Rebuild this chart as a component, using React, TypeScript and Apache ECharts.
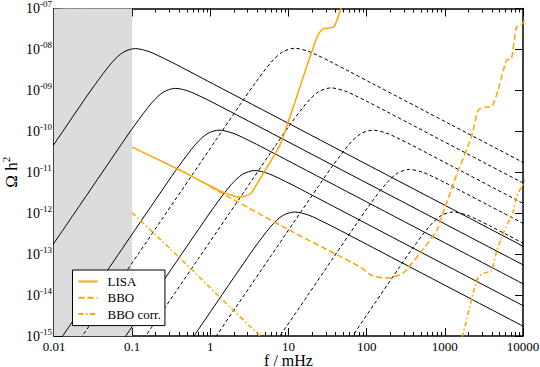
import React, { useEffect, useRef } from 'react';
import * as echarts from 'echarts';

// ---- axes / ticks ----
const xMajor = [0.01, 0.1, 1, 10, 100, 1000, 10000];
const xTickLabels = ['0.01', '0.1', '1', '10', '100', '1000', '10000'];
const yMajor = [1e-15, 1e-14, 1e-13, 1e-12, 1e-11, 1e-10, 1e-9, 1e-8, 1e-7];
const yExponents = ['-15', '-14', '-13', '-12', '-11', '-10', '-09', '-08', '-07'];
const shadedBand = [0.01, 0.1];

// ---- black solid spectra ----
const solid1: [number, number][] = [[0.0055, 9.0e-12], [0.011, 6.3e-11], [0.022, 4.4e-10], [0.033, 1.33e-9], [0.055, 4.77e-9], [0.077, 8.54e-9], [0.11, 1.05e-8], [0.165, 8.82e-9], [0.22, 6.93e-9], [0.33, 4.73e-9], [0.55, 2.85e-9], [1.1, 1.42e-9], [11, 1.42e-10], [110, 1.42e-11], [1100, 1.42e-12], [11000, 1.42e-13]];
const solid2: [number, number][] = [[0.0072, 7.45e-14], [0.018, 9.6e-13], [0.036, 6.7e-12], [0.072, 4.67e-11], [0.108, 1.42e-10], [0.18, 5.08e-10], [0.252, 9.1e-10], [0.36, 1.12e-9], [0.54, 9.41e-10], [0.72, 7.39e-10], [1.08, 5.04e-10], [1.8, 3.04e-10], [3.6, 1.52e-10], [36, 1.52e-11], [360, 1.52e-12], [3600, 1.52e-13], [36000, 1.52e-14]];
const solid3: [number, number][] = [[0.0065, 1.47e-16], [0.013, 1.02e-15], [0.026, 7.1e-15], [0.065, 9.2e-14], [0.13, 6.44e-13], [0.26, 4.46e-12], [0.39, 1.36e-11], [0.65, 4.86e-11], [0.91, 8.7e-11], [1.3, 1.07e-10], [1.95, 8.99e-11], [2.6, 7.06e-11], [3.9, 4.82e-11], [6.5, 2.9e-11], [13, 1.45e-11], [130, 1.45e-12], [1300, 1.45e-13], [13000, 1.45e-14]];
const solid4: [number, number][] = [[0.037, 1.05e-16], [0.074, 7.3e-16], [0.185, 9.46e-15], [0.37, 6.62e-14], [0.74, 4.59e-13], [1.11, 1.4e-12], [1.85, 4.99e-12], [2.59, 8.94e-12], [3.7, 1.1e-11], [5.55, 9.24e-12], [7.4, 7.26e-12], [11.1, 4.95e-12], [18.5, 2.98e-12], [37, 1.49e-12], [370, 1.49e-13], [3700, 1.49e-14], [37000, 1.49e-15]];
const solid5: [number, number][] = [[0.24, 7.1e-17], [0.6, 9.2e-16], [1.2, 6.44e-15], [2.4, 4.46e-14], [3.6, 1.36e-13], [6, 4.86e-13], [8.4, 8.7e-13], [12, 1.07e-12], [18, 8.99e-13], [24, 7.06e-13], [36, 4.82e-13], [60, 2.9e-13], [120, 1.45e-13], [1200, 1.45e-14], [12000, 1.45e-15]];

// ---- black dashed spectra ----
const dashed1: [number, number][] = [[0.012, 1.6e-16], [0.024, 1.12e-15], [0.06, 1.47e-14], [0.12, 1.02e-13], [0.24, 7.1e-13], [0.6, 9.2e-12], [1.2, 6.44e-11], [2.4, 4.46e-10], [3.6, 1.36e-9], [6, 4.86e-9], [8.4, 8.7e-9], [12, 1.07e-8], [18, 8.99e-9], [24, 7.06e-9], [36, 4.82e-9], [60, 2.9e-9], [120, 1.45e-9], [1200, 1.45e-10], [12000, 1.45e-11]];
const dashed2: [number, number][] = [[0.07, 1.2e-16], [0.175, 1.58e-15], [0.35, 1.1e-14], [0.7, 7.65e-14], [1.75, 9.9e-13], [3.5, 6.92e-12], [7, 4.8e-11], [10.5, 1.46e-10], [17.5, 5.22e-10], [24.5, 9.35e-10], [35, 1.15e-9], [52.5, 9.66e-10], [70, 7.59e-10], [105, 5.18e-10], [175, 3.12e-10], [350, 1.56e-10], [3500, 1.56e-11], [35000, 1.56e-12]];
const dashed3: [number, number][] = [[0.24, 1.1e-17], [0.6, 1.47e-16], [1.2, 1.02e-15], [2.4, 7.1e-15], [6, 9.2e-14], [12, 6.44e-13], [24, 4.46e-12], [36, 1.36e-11], [60, 4.86e-11], [84, 8.7e-11], [120, 1.07e-10], [180, 8.99e-11], [240, 7.06e-11], [360, 4.82e-11], [600, 2.9e-11], [1200, 1.45e-11], [12000, 1.45e-12]];
const dashed4: [number, number][] = [[1.78, 1.6e-17], [3.55, 1.12e-16], [7.1, 7.8e-16], [17.8, 1.01e-14], [35.5, 7.04e-14], [71, 4.88e-13], [106.5, 1.49e-12], [177.5, 5.31e-12], [248.5, 9.51e-12], [355, 1.17e-11], [532.5, 9.83e-12], [710, 7.72e-12], [1065, 5.27e-12], [1775, 3.17e-12], [3550, 1.59e-12], [35500, 1.59e-13]];
const dashed5: [number, number][] = [[12.8, 1.0e-17], [25.6, 7.1e-17], [64, 9.2e-16], [128, 6.44e-15], [256, 4.46e-14], [384, 1.36e-13], [640, 4.86e-13], [896, 8.7e-13], [1280, 1.07e-12], [1920, 8.99e-13], [2560, 7.06e-13], [3840, 4.82e-13], [6400, 2.9e-13], [12800, 1.45e-13]];

// ---- detector sensitivity curves ----
const lisa: [number, number][] = [[0.1, 4.1e-11], [0.41, 1.12e-11], [0.74, 6.2e-12], [1.33, 3.5e-12], [2.25, 2.5e-12], [3.2, 2.9e-12], [4.75, 9.3e-12], [7.76, 4.6e-11], [10.4, 2.2e-10], [14, 1.2e-9], [18.8, 6.5e-9], [23.8, 2.25e-8], [27.5, 3.16e-8], [32.9, 3.33e-8], [38.1, 3.53e-8], [41.6, 5.2e-8], [46.8, 9.7e-8], [51, 1.6e-7]];
const bbo: [number, number][] = [[1.0, 4.4e-12], [10.4, 3.8e-13], [82, 4.9e-14], [117, 3.0e-14], [180, 2.6e-14], [290, 3.4e-14], [479, 1.04e-13], [790, 3.8e-13], [910, 8.1e-13], [1380, 7.6e-12], [2190, 7.4e-11], [2670, 3.3e-10], [3200, 3.9e-10], [3950, 4.0e-10], [4810, 1.02e-9], [6150, 5.5e-9], [7120, 6e-9], [8260, 3.6e-8], [9570, 4e-8], [11000, 6e-8]];
const bboCorrLow: [number, number][] = [[0.1, 1.02e-12], [0.304, 1.38e-13], [1.33, 8.8e-15], [4.3, 1e-15], [6, 5e-16]];
const bboCorrHigh: [number, number][] = [[1500, 5e-16], [1680, 1e-15], [2300, 1.1e-14], [2670, 2.75e-14], [3090, 3.35e-14], [3950, 4.0e-14], [4580, 1.13e-13], [5570, 3.2e-13], [7470, 1.07e-12], [8260, 2.5e-12], [9570, 4.4e-12], [11000, 7e-12]];

const FONT = "Liberation Serif, Times New Roman, serif";
const ORANGE = '#FFA500';

function near(a: number, b: number) {
  return Math.abs(a - b) <= Math.abs(b) * 1e-6;
}
function fmtX(v: number) {
  const i = xMajor.findIndex((t) => near(v, t));
  return i >= 0 ? xTickLabels[i] : '';
}
function fmtY(v: number) {
  const i = yMajor.findIndex((t) => near(v, t));
  return i >= 0 ? `{a|10}{b|${yExponents[i]}}` : '';
}

export default function App() {
  const ref = useRef<HTMLDivElement>(null);
  useEffect(() => {
    if (!ref.current) return;
    const chart = echarts.init(ref.current, undefined, { renderer: 'svg' });
    const xMinor: number[] = [];
    for (let i = 0; i < xMajor.length - 1; i++) {
      for (let k = 2; k <= 9; k++) xMinor.push(xMajor[i] * k);
    }
    const axisLine = { show: true, onZero: false, lineStyle: { color: '#000', width: 1.5 } };
    const baseX = {
      type: 'log', logBase: 10, min: xMajor[0], max: xMajor[xMajor.length - 1],
      splitLine: { show: false }, minorTick: { show: false }, minorSplitLine: { show: false },
    };
    const baseY = {
      type: 'log', logBase: 10, min: yMajor[0], max: yMajor[yMajor.length - 1],
      splitLine: { show: false }, minorTick: { show: false }, minorSplitLine: { show: false },
    };
    const blackLine = (data: [number, number][], dashed: boolean) => ({
      type: 'line', data, showSymbol: false, symbol: 'none', smooth: 0.3, silent: true,
      lineStyle: { color: '#000', width: 1, type: dashed ? [3.5, 2.5] : 'solid' },
      itemStyle: { color: '#000' }, z: 2,
    });
    const orangeLine = (name: string, data: [number, number][], type: any) => ({
      name, type: 'line', data, showSymbol: false, symbol: 'none', smooth: 0.2, silent: true,
      lineStyle: { color: ORANGE, width: 1.5, type },
      itemStyle: { color: ORANGE }, z: 3,
    });
    const option: any = {
      animation: false,
      backgroundColor: '#fff',
      grid: { left: 54, right: 17, top: 8.5, bottom: 31, containLabel: false, outerBoundsMode: 'none' },
      legend: {
        orient: 'vertical', left: 72.5, top: 270,
        data: ['LISA', 'BBO', 'BBO corr.'],
        itemWidth: 19, itemHeight: 10, itemGap: 3.3,
        padding: [5, 4, 5, 5],
        backgroundColor: '#fff', borderColor: '#000', borderWidth: 1, borderRadius: 0,
        itemStyle: { opacity: 0 },
        textStyle: { fontFamily: FONT, fontSize: 13, color: '#000', lineHeight: 10, padding: [0, 0, 0, 5] },
        selectedMode: false,
      },
      xAxis: [
        {
          ...baseX, position: 'bottom', axisLine,
          axisTick: { show: true, inside: true, length: 8, customValues: xMajor, lineStyle: { color: '#000', width: 1 } },
          axisLabel: { show: true, customValues: xMajor, formatter: fmtX, margin: 4, color: '#000', fontFamily: FONT, fontSize: 13 },
          name: 'f / mHz', nameLocation: 'middle', nameGap: 16, nameMoveOverlap: false,
          nameTextStyle: { fontFamily: FONT, fontSize: 16, color: '#000' },
        },
        {
          ...baseX, position: 'bottom', axisLine: { show: false },
          axisTick: { show: true, inside: true, length: 4, customValues: xMinor, lineStyle: { color: '#000', width: 1 } },
          axisLabel: { show: false },
        },
        {
          ...baseX, position: 'top', axisLine,
          axisTick: { show: true, inside: true, length: 8, customValues: xMajor, lineStyle: { color: '#000', width: 1 } },
          axisLabel: { show: false },
        },
        {
          ...baseX, position: 'top', axisLine: { show: false },
          axisTick: { show: true, inside: true, length: 4, customValues: xMinor, lineStyle: { color: '#000', width: 1 } },
          axisLabel: { show: false },
        },
      ],
      yAxis: [
        {
          ...baseY, position: 'left', axisLine,
          axisTick: { show: true, inside: true, length: 8, customValues: yMajor, lineStyle: { color: '#000', width: 1 } },
          axisLabel: {
            show: true, customValues: yMajor, formatter: fmtY, margin: 28, align: 'left', color: '#000',
            fontFamily: FONT, fontSize: 14,
            rich: {
              a: { fontFamily: FONT, fontSize: 14, color: '#000', lineHeight: 18 },
              b: { fontFamily: FONT, fontSize: 9, color: '#000', verticalAlign: 'top' },
            },
          },
          name: '{a|Ω h}{b|2}', nameLocation: 'middle', nameGap: 32, nameRotate: 90, nameMoveOverlap: false,
          nameTextStyle: {
            color: '#000', fontFamily: FONT, fontSize: 17,
            rich: {
              a: { fontFamily: FONT, fontSize: 17, color: '#000', lineHeight: 22 },
              b: { fontFamily: FONT, fontSize: 11, color: '#000', verticalAlign: 'top' },
            },
          },
        },
        {
          ...baseY, position: 'right', axisLine,
          axisTick: { show: true, inside: true, length: 8, customValues: yMajor, lineStyle: { color: '#000', width: 1 } },
          axisLabel: { show: false },
        },
      ],
      series: [
        {
          type: 'line', data: [], silent: true, z: 0,
          markArea: {
            silent: true, itemStyle: { color: '#dcdcdc', borderWidth: 0 },
            data: [[{ xAxis: shadedBand[0] }, { xAxis: shadedBand[1] }]],
          },
        },
        blackLine(solid1, false), blackLine(solid2, false), blackLine(solid3, false),
        blackLine(solid4, false), blackLine(solid5, false),
        blackLine(dashed1, true), blackLine(dashed2, true), blackLine(dashed3, true),
        blackLine(dashed4, true), blackLine(dashed5, true),
        orangeLine('LISA', lisa, 'solid'),
        orangeLine('BBO', bbo, [6, 3]),
        orangeLine('BBO corr.', bboCorrLow, [5, 2.5, 1.5, 2.5]),
        orangeLine('BBO corr.', bboCorrHigh, [5, 2.5, 1.5, 2.5]),
      ],
    };
    chart.setOption(option);
    return () => chart.dispose();
  }, []);
  return <div ref={ref} style={{ position: 'absolute', left: 0, top: 0, width: 540, height: 367 }} />;
}
